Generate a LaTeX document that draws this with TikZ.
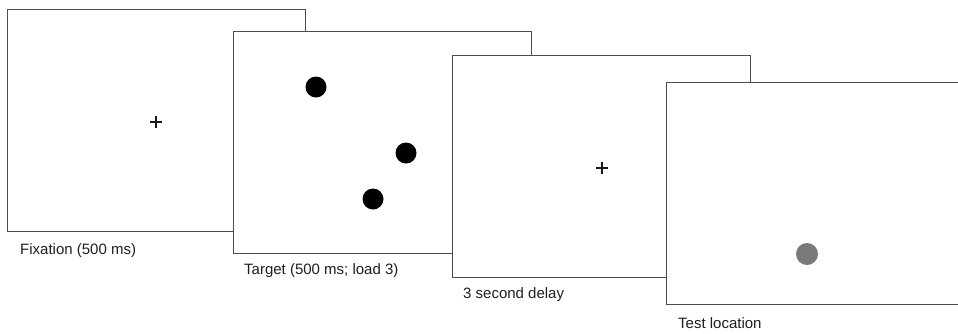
\documentclass[tikz,border=0pt]{standalone}
\usepackage{fontspec}
\setmainfont{Liberation Sans}
\begin{document}
\begin{tikzpicture}[x=1pt,y=-1pt,
  screen/.style={draw=black!70, line width=1.2pt, fill=white, rectangle,
    minimum width=298pt, minimum height=222pt, anchor=north west, inner sep=0pt},
  caption/.style={anchor=base west, inner sep=0pt, font=\fontsize{15}{18}\selectfont, text=black!88},
  target/.style={circle, fill=black, minimum size=21pt, inner sep=0pt},
  probe/.style={circle, fill=black!52, minimum size=22pt, inner sep=0pt},
  crossline/.style={line width=1.6pt, black!90}]
\useasboundingbox (0,0) rectangle (958,333);
\clip (0,0) rectangle (958,333);
\fill[white] (0,0) rectangle (958,333);

% fixation screen
\node[screen] (s1) at (7,9) {};
\draw[crossline] (150,122) -- (162,122);
\draw[crossline] (156,116) -- (156,128);
\node[caption] (c1) at (20,254) {Fixation (500 ms)};

% target screen
\node[screen] (s2) at (233,31) {};
\node[target] (d1) at (316,87) {};
\node[target] (d2) at (406,153) {};
\node[target] (d3) at (373,199) {};
\node[caption] (c2) at (244,274) {Target (500 ms; load 3)};

% delay screen
\node[screen] (s3) at (452,55) {};
\draw[crossline] (596,168) -- (608,168);
\draw[crossline] (602,162) -- (602,174);
\node[caption] (c3) at (463,298) {3 second delay};

% test screen (runs past the right edge)
\node[screen] (s4) at (666,82) {};
\node[probe] (p1) at (807,254) {};
\node[caption] (c4) at (678,328) {Test location};
\end{tikzpicture}
\end{document}
